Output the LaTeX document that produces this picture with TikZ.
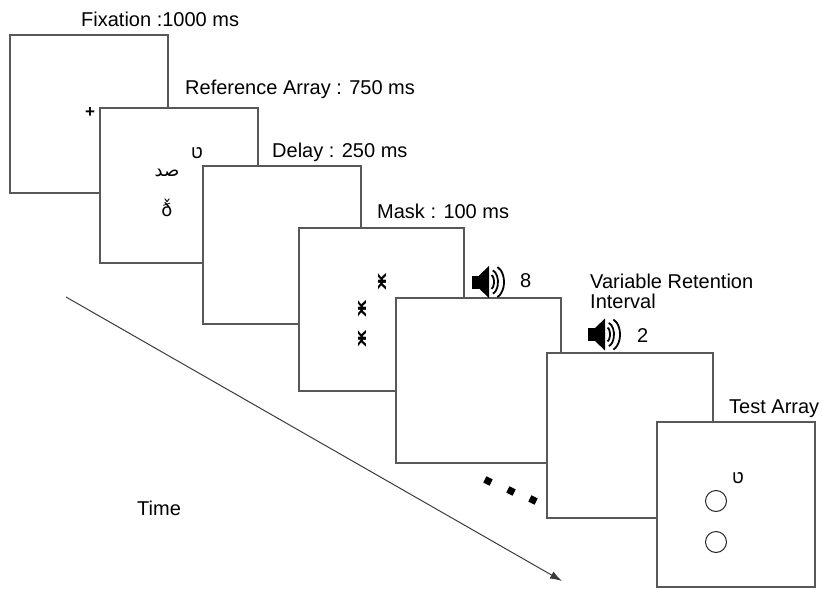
\documentclass[tikz,border=0pt]{standalone}
\usepackage{fontspec}
\setmainfont{Liberation Sans}
\newfontfamily\hebfont[Script=Hebrew]{Liberation Sans}
\newfontfamily\arabfont[Script=Arabic]{DejaVu Sans}
\newfontfamily\djv{DejaVu Sans}
\TeXXeTstate=1
\usetikzlibrary{arrows.meta}
\definecolor{framegray}{RGB}{88,88,88}
\definecolor{linegray}{RGB}{60,60,60}
\begin{document}
\begin{tikzpicture}[x=1pt,y=-1pt,
  screen/.style={draw=framegray, line width=1.2pt, fill=white, anchor=north west, inner sep=0pt, outer sep=0pt},
  lab/.style={anchor=base west, inner sep=0pt, font=\fontsize{20}{24}\selectfont},
  glyph/.style={inner sep=0pt, font=\fontsize{18}{20}\selectfont},
  maskglyph/.style={inner sep=0pt, rotate=90, xscale=1.25, yscale=1.05, font=\djv\bfseries\fontsize{14}{16}\selectfont},
  dotsq/.style={fill=black, inner sep=0pt, minimum size=7pt, rotate=-27},
  ring/.style={draw=black!85, line width=1pt, circle, inner sep=0pt, minimum size=21pt},
  timeline/.style={draw=linegray, line width=1pt, -{Latex[length=12pt,width=8pt]}},
  speaker/.pic={
    \fill (-17,-6.5) rectangle (-10,6.5);
    \fill (-10,-6.5) -- (0,-16) -- (0,16) -- (-10,6.5) -- cycle;
    \draw[line width=1.8pt] ([shift={(-80:3 and 7)}]2,0) arc[start angle=-80, end angle=80, x radius=3, y radius=7];
    \draw[line width=1.8pt] ([shift={(-75:7 and 12)}]2,0) arc[start angle=-75, end angle=75, x radius=7, y radius=12];
    \draw[line width=1.8pt] ([shift={(-70:10 and 16)}]5,0) arc[start angle=-70, end angle=70, x radius=10, y radius=16];
  }]
\useasboundingbox[fill=white] (0,0) rectangle (822,589);

% time arrow (behind screens)
\coordinate (t0) at (66,297);
\coordinate (t1) at (562,581);
\draw[timeline] (t0) -- (t1);
\node[lab] (time) at (137,515) {Time};

% screens
\node[screen, minimum width=158pt, minimum height=158pt] (s1) at (10,35) {};
\node[screen, minimum width=158pt, minimum height=155pt] (s2) at (100,108) {};
\node[screen, minimum width=158pt, minimum height=158pt] (s3) at (203,166) {};
\node[screen, minimum width=165pt, minimum height=163pt] (s4) at (299,228) {};
\node[screen, minimum width=165pt, minimum height=165pt] (s5) at (396,298) {};
\node[screen, minimum width=166pt, minimum height=165pt] (s6) at (547,353) {};
\node[screen, minimum width=158pt, minimum height=165pt] (s7) at (657,422) {};

% labels
\node[lab] (l1) at (81,26) {Fixation :1000 ms};
\node[lab] (l2) at (185,94) {Reference Array : 750 ms};
\node[lab] (l3) at (272,157) {Delay : 250 ms};
\node[lab] (l4) at (377,218) {Mask : 100 ms};
\node[lab] (l5) at (590,288) {Variable Retention};
\node[lab] (l5b) at (590,308) {Interval};
\node[lab] (l7) at (729,413) {Test Array};
\node[lab] (n8) at (520,287) {8};
\node[lab] (n2) at (637,342) {2};

% fixation cross
\node[inner sep=0pt, font=\bfseries\fontsize{17}{19}\selectfont] (fix) at (90,113) {+};

% reference array glyphs
\node[glyph] (g1) at (197,153) {\hebfont ט};
\node[glyph] (g2) at (167,173) {\arabfont\beginR صد\endR};
\node[glyph] (g3) at (167,208) {\djv ð̌};

% masks
\node[maskglyph] (m1) at (382,282) {ж};
\node[maskglyph] (m2) at (362,309) {ж};
\node[maskglyph] (m3) at (362,339) {ж};

% speakers
\pic at (489,282) {speaker};
\pic at (605,334.5) {speaker};

% dots
\node[dotsq] (d1) at (488,481) {};
\node[dotsq] (d2) at (511,491) {};
\node[dotsq] (d3) at (533,500) {};

% test array
\node[glyph] (g4) at (738,478) {\hebfont ט};
\node[ring] (c1) at (716,501) {};
\node[ring] (c2) at (716,542) {};
\end{tikzpicture}
\end{document}
